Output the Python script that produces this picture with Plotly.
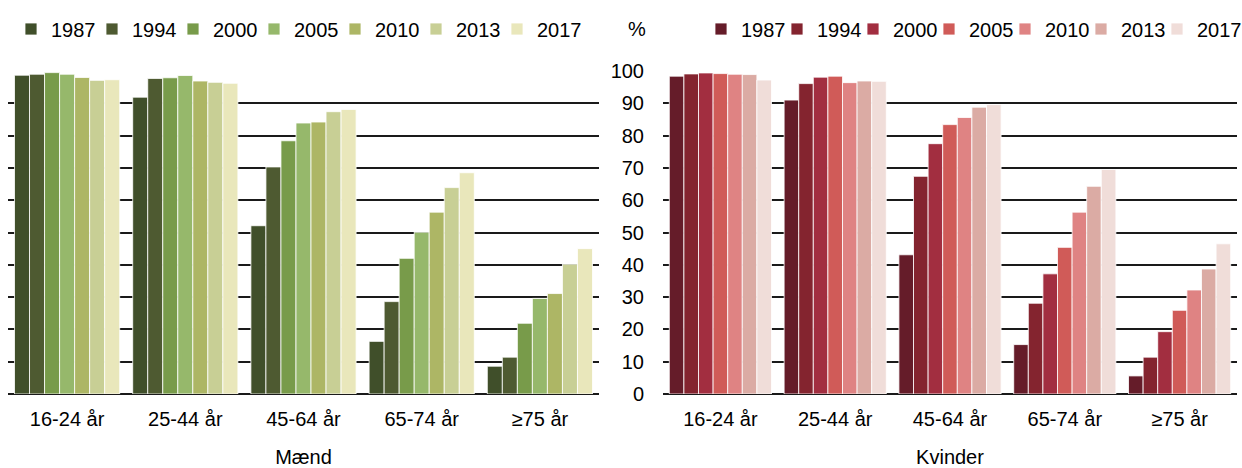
import plotly.graph_objects as go

categories = ["16-24 år", "25-44 år", "45-64 år", "65-74 år", "≥75 år"]
years = ["1987", "1994", "2000", "2005", "2010", "2013", "2017"]

maend_1987 = [98.7, 91.9, 52.1, 16.3, 8.6]
maend_1994 = [99.0, 97.7, 70.3, 28.6, 11.4]
maend_2000 = [99.5, 97.9, 78.4, 42.0, 21.9]
maend_2005 = [99.0, 98.6, 83.9, 50.1, 29.6]
maend_2010 = [98.0, 96.9, 84.2, 56.3, 31.1]
maend_2013 = [97.1, 96.5, 87.4, 63.9, 40.2]
maend_2017 = [97.3, 96.2, 88.1, 68.5, 45.0]

kvinder_1987 = [98.4, 91.0, 43.1, 15.3, 5.6]
kvinder_1994 = [99.1, 96.1, 67.4, 28.1, 11.4]
kvinder_2000 = [99.4, 98.1, 77.5, 37.2, 19.3]
kvinder_2005 = [99.2, 98.4, 83.4, 45.4, 25.9]
kvinder_2010 = [99.0, 96.4, 85.6, 56.3, 32.2]
kvinder_2013 = [98.9, 96.9, 88.8, 64.3, 38.7]
kvinder_2017 = [97.2, 96.8, 89.6, 69.5, 46.5]

maend = [maend_1987, maend_1994, maend_2000, maend_2005, maend_2010, maend_2013, maend_2017]
kvinder = [kvinder_1987, kvinder_1994, kvinder_2000, kvinder_2005, kvinder_2010, kvinder_2013, kvinder_2017]

green = ["#404f2a", "#4e5a31", "#789b4a", "#96b86b", "#adb665", "#c8cf95", "#e9e7bb"]
red = ["#651c29", "#84242f", "#a22e40", "#d05b58", "#df8383", "#dbaba4", "#f0ddd9"]

FONT = "Liberation Sans, Arial, sans-serif"
W, H = 1242, 468
ML, MR, MT, MB = 8, 5, 71, 74
PW, PH = W - ML - MR, H - MT - MB

def px_x(p):
    return (p - ML) / PW

def px_y(p):
    return (H - MB - p) / PH

fig = go.Figure()
for i, y in enumerate(years):
    fig.add_trace(go.Bar(x=categories, y=maend[i], name=y, marker_color=green[i],
                         marker_line=dict(color="white", width=0.8),
                         xaxis="x", yaxis="y", legend="legend"))
for i, y in enumerate(years):
    fig.add_trace(go.Bar(x=categories, y=kvinder[i], name=y, marker_color=red[i],
                         marker_line=dict(color="white", width=0.8),
                         xaxis="x2", yaxis="y2", legend="legend2"))

# invisible spacer entries so the last legend text is not clipped
for ax, ay, lg in (("x", "y", "legend"), ("x2", "y2", "legend2")):
    fig.add_trace(go.Scatter(x=[None], y=[None], mode="markers", name=" ",
                             marker=dict(color="rgba(0,0,0,0)"), hoverinfo="skip",
                             xaxis=ax, yaxis=ay, legend=lg, showlegend=True))

axfont = dict(family=FONT, size=20, color="#000000")
common_x = dict(showgrid=False, ticks="", tickfont=axfont, ticklabelstandoff=11,
                showline=False, zeroline=False)
common_y = dict(range=[0, 100], dtick=10, showgrid=True, gridcolor="#1a1a1a",
                gridwidth=1.5, zeroline=True, zerolinecolor="#1a1a1a", zerolinewidth=1.5,
                showline=False, tickfont=axfont, fixedrange=True)

fig.update_layout(
    width=W, height=H,
    margin=dict(l=ML, r=MR, t=MT, b=MB, autoexpand=False),
    paper_bgcolor="white", plot_bgcolor="white",
    barmode="group", bargap=0.11, bargroupgap=0,
    font=dict(family=FONT, size=20, color="#000000"),
    xaxis=dict(domain=[0, px_x(599)], anchor="y",
               title=dict(text="Mænd", font=axfont, standoff=29), **common_x),
    xaxis2=dict(domain=[px_x(663), 1], anchor="y2",
                title=dict(text="Kvinder", font=axfont, standoff=29), **common_x),
    yaxis=dict(anchor="x", showticklabels=False, ticks="", **common_y),
    yaxis2=dict(anchor="x2", showticklabels=True, ticks="", ticklabelstandoff=18, **common_y),
    legend=dict(orientation="h", x=px_x(11), xanchor="left", y=px_y(29), yanchor="middle",
                font=dict(family=FONT, size=20), entrywidth=36, entrywidthmode="pixels",
                itemwidth=30, bgcolor="rgba(0,0,0,0)", traceorder="normal", itemclick=False),
    legend2=dict(orientation="h", x=px_x(701), xanchor="left", y=px_y(29), yanchor="middle",
                 font=dict(family=FONT, size=20), entrywidth=31, entrywidthmode="pixels",
                 itemwidth=30, bgcolor="rgba(0,0,0,0)", traceorder="normal", itemclick=False),
    annotations=[dict(text="%", xref="paper", yref="paper", x=px_x(637), y=px_y(29),
                      xanchor="center", yanchor="middle", showarrow=False,
                      font=dict(family=FONT, size=20, color="#000000"))],
)

fig.write_html("out.html", config={"displayModeBar": False},
               post_script="document.body.style.margin='0';")
